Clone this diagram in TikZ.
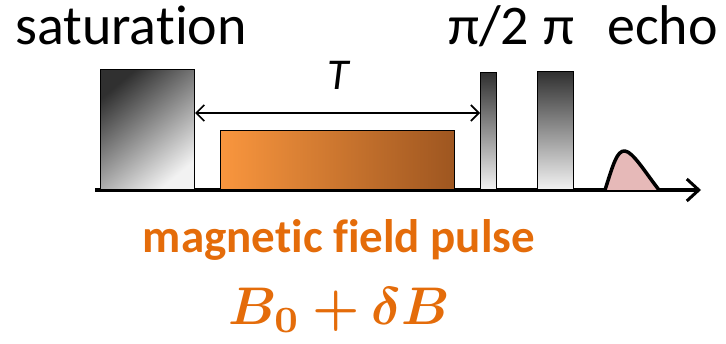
\documentclass[tikz,border=0pt]{standalone}
\usepackage{fontspec}
\setmainfont{Carlito}[Ligatures=NoCommon]
\usepackage{amsmath}
\usepackage{bm}
\usetikzlibrary{arrows.meta,positioning}
\definecolor{PulseOrange}{HTML}{E46C0A}
\definecolor{LightOrange}{HTML}{F9963E}
\definecolor{DarkOrange}{HTML}{9E5620}
\definecolor{EchoPink}{HTML}{E6B9B8}
\definecolor{PulseDark}{HTML}{303030}
\definecolor{PulseLight}{HTML}{F2F2F2}

\begin{document}
\begin{tikzpicture}[
  x=1pt, y=-1pt,
  rfpulse/.style={
    draw=black,
    line width=1.2pt,
    inner sep=0pt,
    anchor=south west,
    top color=PulseDark,
    bottom color=PulseLight
  },
  fieldpulse/.style={
    draw=black,
    line width=1.2pt,
    inner sep=0pt,
    anchor=south west,
    left color=LightOrange,
    right color=DarkOrange,
    minimum width=234pt,
    minimum height=59pt
  },
  label/.style={
    anchor=base west,
    inner sep=0pt,
    font=\fontsize{56}{60}\selectfont
  },
  timeline/.style={
    -{Straight Barb[length=12pt,width=22pt,line width=3pt]},
    line width=4.5pt
  },
  span/.style={
    {Straight Barb[length=8pt,width=16pt]}-{Straight Barb[length=8pt,width=16pt]},
    line width=1.6pt
  }
]
\useasboundingbox (0,0) rectangle (726,344);

% Time axis
\coordinate (start) at (95,190);
\coordinate (stop) at (701,190);
\draw[timeline] (start) -- (stop);

% Pulses
\node[rfpulse, shading angle=40, minimum width=94pt,
  minimum height=120pt] (sat) at (100,190) {};
\node[fieldpulse] (field) at (220,190) {};
\node[rfpulse, minimum width=16pt,
  minimum height=117pt] (half) at (480,190) {};
\node[rfpulse, minimum width=36pt,
  minimum height=118pt] (full) at (537,190) {};

% Echo
\coordinate (echoin) at (605,190);
\coordinate (echoout) at (659,190);
\filldraw[fill=EchoPink, line width=3.5pt, line join=round]
  (echoin) .. controls (613,165) and (617,150) .. (625,151)
  .. controls (633,152) and (645,172) .. (echoout);

% Delay T
\coordinate (tleft) at (sat.east |- 0,113);
\coordinate (tright) at (half.west |- 0,113);
\draw[span] (tleft) -- (tright);
\node[anchor=base, inner sep=0pt, font=\fontsize{44}{48}\selectfont\itshape]
  (delay) at (338,90) {T};

% Labels
\node[label] (satlabel) at (15,45) {saturation};
\node[label] (halflabel) at (448,45) {π/2};
\node[label] (fulllabel) at (543,45) {π};
\node[label] (echolabel) at (607,45) {echo};

\node[anchor=base, inner sep=0pt, text=PulseOrange,
  font=\fontsize{47}{50}\selectfont\bfseries] (fieldlabel) at (339,253)
  {magnetic field pulse};
\node[anchor=base, inner sep=0pt, text=PulseOrange,
  font=\fontsize{10}{12}\selectfont] (fieldvalue) at (339,325)
  {\scalebox{5.3}{$\bm{B_0+\delta B}$}};

\end{tikzpicture}
\end{document}
